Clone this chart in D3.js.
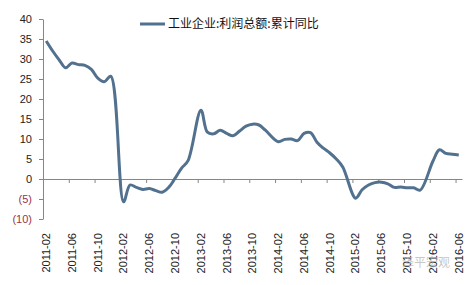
<!DOCTYPE html>
<html>
<head>
<meta charset="utf-8">
<script src="https://cdn.jsdelivr.net/npm/d3@7"></script>
<style>
    body { margin: 0; background: #fff; }
    .axis path, .axis line { stroke: #868686; }
    .axis text { font-family: "Liberation Sans", Arial, sans-serif; font-size: 11px; fill: #222; }
</style>
</head>
<body>
<div id="chart"></div>
<script>
// 数据: 工业企业利润总额累计同比 (%), 2011-02 ~ 2016-06, 1月无数据
const seriesName = "工业企业:利润总额:累计同比";
const startMonth = new Date(2011, 1, 1);
const endMonth = new Date(2016, 6, 1);
const values2011 = [34.5, 32.0, 29.8, 27.8, 29.0, 28.6, 28.4, 27.4, 25.2, 24.3, 25.7];
const values2012 = [null, -5.7, -1.5, -2.1, -2.6, -2.4, -2.9, -3.3, -2.1, 0.2, 2.7, 4.6];
const values2013 = [null, 17.2, 11.7, 11.3, 12.2, 11.4, 10.8, 12.0, 13.2, 13.7, 13.5, 12.2];
const values2014 = [null, 9.3, 9.9, 10.0, 9.6, 11.4, 11.6, 9.2, 7.7, 6.5, 5.0, 3.0];
const values2015 = [null, -4.8, -2.7, -1.5, -0.9, -0.8, -1.2, -2.1, -2.0, -2.2, -2.2, -2.8];
const values2016 = [null, 4.5, 7.3, 6.4, 6.2, 6.0];
const xTickLabels = [
    "2011-02", "2011-06", "2011-10", "2012-02", "2012-06", "2012-10",
    "2013-02", "2013-06", "2013-10", "2014-02", "2014-06", "2014-10",
    "2015-02", "2015-06", "2015-10", "2016-02", "2016-06",
];
const yTicks = [-10, -5, 0, 5, 10, 15, 20, 25, 30, 35, 40];

// 图表尺寸
const W = 475, H = 285;
const plot = {left: 43, right: 462, top: 19, bottom: 219};
const lineColor = "#52718f";

const svg = d3.select("#chart").append("svg")
    .attr("width", W)
    .attr("height", H);

// 整理数据
const fmt = d3.timeFormat("%Y-%m");
const months = d3.timeMonth.range(startMonth, endMonth).map(fmt);
const allValues = [].concat(values2011, values2012, values2013, values2014, values2015, values2016);
const data = months.map(function (m, i) { return {month: m, value: allValues[i]}; });

// 比例尺
const x = d3.scaleBand()
    .domain(months)
    .range([plot.left, plot.right])
    .padding(0);
const y = d3.scaleLinear()
    .domain([-10, 40])
    .range([plot.bottom, plot.top]);

// 纵轴
const yAxis = d3.axisLeft(y)
    .tickValues(yTicks)
    .tickSize(4)
    .tickSizeOuter(0)
    .tickPadding(7)
    .tickFormat(function (d) { return d < 0 ? "(" + (-d) + ")" : d; });

svg.append("g")
    .attr("class", "y axis")
    .attr("transform", "translate(" + plot.left + ",0)")
    .call(yAxis)
    .call(function (g) {
        g.selectAll(".tick text")
            .style("fill", function (d) { return d < 0 ? "#9a3348" : "#222"; });
    });

// 横轴 (0 线 + 刻度在月份左边)
const xTickScale = d3.scaleLinear()
    .domain([0, months.length])
    .range([plot.left, plot.right]);
const xAxis = d3.axisBottom(xTickScale)
    .tickValues(xTickLabels.map(function (m) { return months.indexOf(m); }))
    .tickSize(4)
    .tickSizeOuter(0)
    .tickFormat("");

svg.append("g")
    .attr("class", "x axis")
    .attr("transform", "translate(0," + y(0) + ")")
    .call(xAxis);

// 横轴标签 (竖排)
const xLabelAxis = d3.axisBottom(x)
    .tickValues(xTickLabels)
    .tickSize(0)
    .tickSizeOuter(0);

svg.append("g")
    .attr("class", "x axis labels")
    .attr("transform", "translate(0,233)")
    .call(xLabelAxis)
    .call(function (g) {
        g.select(".domain").remove();
        g.selectAll(".tick text")
            .attr("transform", "rotate(-90)")
            .attr("text-anchor", "end")
            .attr("x", 0)
            .attr("y", 0)
            .attr("dy", "0.35em");
    });

// 折线 (平滑, 跳过1月)
const line = d3.line()
    .x(function (d) { return x(d.month) + x.bandwidth() / 2; })
    .y(function (d) { return y(d.value); })
    .curve(d3.curveCatmullRom.alpha(0.5));

svg.append("path")
    .datum(data.filter(function (d) { return d.value !== null; }))
    .attr("fill", "none")
    .attr("stroke", lineColor)
    .attr("stroke-width", 3)
    .attr("stroke-linejoin", "round")
    .attr("d", line);

// 图例
const legend = svg.append("g")
    .attr("transform", "translate(140,24)");
legend.append("line")
    .attr("x1", 0).attr("x2", 25)
    .attr("stroke", lineColor)
    .attr("stroke-width", 3);
legend.append("text")
    .attr("x", 28)
    .attr("dy", "0.35em")
    .style("font-family", "'Noto Sans CJK SC', sans-serif")
    .style("font-size", "12px")
    .style("fill", "#111")
    .text(seriesName);

// 水印
svg.append("text")
    .attr("x", 402)
    .attr("y", 267)
    .style("font-family", "'Noto Sans CJK SC', sans-serif")
    .style("font-size", "12px")
    .style("fill", "#bbb")
    .style("opacity", 0.8)
    .text("泽平宏观");
</script>
</body>
</html>
